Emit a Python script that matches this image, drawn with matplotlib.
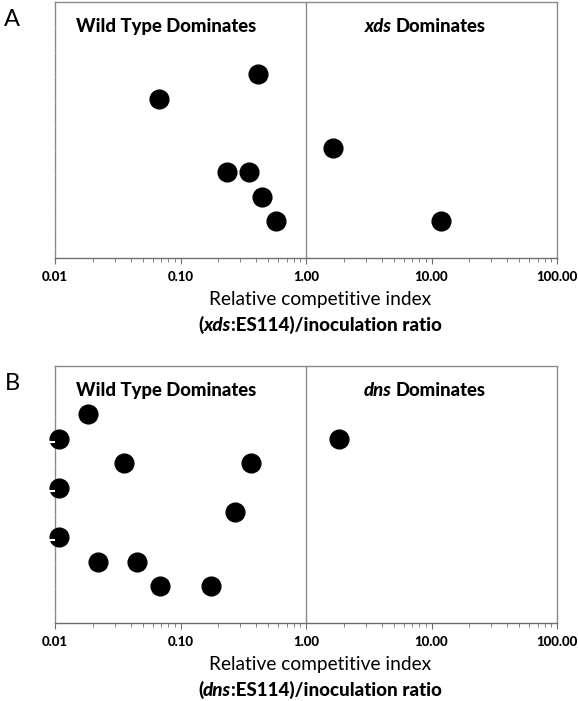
import matplotlib
matplotlib.use("Agg")
import matplotlib.pyplot as plt
from matplotlib.ticker import FixedLocator, LogLocator, NullFormatter

plt.rcParams["font.family"] = ["Lato", "DejaVu Sans"]

# Panel A: xds vs ES114 (relative competitive index, row index from bottom)
a_index = [0.415, 0.068, 1.63, 0.236, 0.353, 0.445, 0.582, 11.9]
a_row = [7, 6, 4, 3, 3, 2, 1, 1]

# Panel B: dns vs ES114
b_index = [0.0182, 0.0108, 1.83, 0.0357, 0.362, 0.0108, 0.271, 0.0108,
           0.0221, 0.0452, 0.069, 0.176]
b_row = [8, 7, 7, 6, 6, 5, 4, 3, 2, 2, 1, 1]

tick_values = [0.01, 0.1, 1, 10, 100]
tick_labels = ["0.01", "0.10", "1.00", "10.00", "100.00"]

W, H = 578, 701
fig = plt.figure(figsize=(W / 100, H / 100), dpi=100)
renderer = fig.canvas.get_renderer()

GRAY = "#8a8a8a"
HEAVY = 900


def px(x, y):
    return x / W, 1 - y / H


def rich_line(xc, y, parts, size, gap=0.0):
    texts = [fig.text(0, y, s, fontsize=size, fontweight=w, fontstyle=st,
                      ha="left", va="baseline") for s, w, st in parts]
    widths = [t.get_window_extent(renderer).width / fig.bbox.width for t in texts]
    total = sum(widths) + gap * (len(texts) - 1)
    x = xc - total / 2
    for t, w in zip(texts, widths):
        t.set_x(x)
        x += w + gap


def panel(top, bottom, xs, ys, letter, mutant):
    left, right = 55, 557
    ax = fig.add_axes([left / W, 1 - bottom / H, (right - left) / W, (bottom - top) / H])
    ax.plot(xs, ys, "o", color="black", markersize=13.5, zorder=3, clip_on=False)
    ax.set_xscale("log")
    ax.set_xlim(0.01, 100)
    ax.set_ylim(-0.5, 9.95)
    ax.axvline(1, color=GRAY, linewidth=1.0, zorder=1)
    for s in ax.spines.values():
        s.set_color(GRAY)
        s.set_linewidth(1.0)
    ax.spines["bottom"].set_color("#6e6e6e")
    ax.xaxis.set_major_locator(FixedLocator(tick_values))
    ax.set_xticklabels(tick_labels, fontsize=9.5, fontweight=HEAVY)
    ax.xaxis.set_minor_locator(LogLocator(base=10, subs=range(2, 10)))
    ax.xaxis.set_minor_formatter(NullFormatter())
    ax.tick_params(axis="x", which="major", direction="out", length=4,
                   color="#6e6e6e", pad=5)
    ax.tick_params(axis="x", which="minor", direction="out", length=3,
                   color="#6e6e6e")
    # white outward ticks on the y axis (only visible over the markers)
    ax.set_yticks([y - 0.12 for y in range(0, 10)])
    ax.set_yticklabels([])
    ax.tick_params(axis="y", which="major", direction="out", length=4,
                   width=1.5, color="white")
    ax.yaxis.set_zorder(5)
    ax.set_yticks([], minor=True)

    ax.text(0.221, 0.905, "Wild Type Dominates", transform=ax.transAxes,
            ha="center", va="center", fontsize=13.3, fontweight=HEAVY)
    # right-hand title: italic mutant name + Dominates
    t1 = ax.text(0, 0.905, mutant, transform=ax.transAxes, ha="left",
                 va="center", fontsize=13.3, fontweight=HEAVY, fontstyle="italic")
    t2 = ax.text(0, 0.905, "Dominates", transform=ax.transAxes, ha="left",
                 va="center", fontsize=13.3, fontweight=HEAVY)
    axw = ax.get_window_extent(renderer).width
    w1 = t1.get_window_extent(renderer).width / axw
    w2 = t2.get_window_extent(renderer).width / axw
    gap = 4 / axw
    x0 = 0.737 - (w1 + w2 + gap) / 2
    t1.set_x(x0)
    t2.set_x(x0 + w1 + gap)

    lx, ly = px(12, top + 17)
    fig.text(lx, ly, letter, fontsize=17, ha="center", va="center")

    xc = 320 / W
    _, y1 = px(0, bottom + 47)
    fig.text(xc, y1, "Relative competitive index", fontsize=13.8, ha="center",
             va="baseline")
    _, y2 = px(0, bottom + 73)
    rich_line(xc, y2, [("(", HEAVY, "normal"), (mutant, HEAVY, "italic"),
                       (":ES114)/inoculation ratio", HEAVY, "normal")], 13.5)
    return ax


panel(2, 258, a_index, a_row, "A", "xds")
panel(366, 623, b_index, b_row, "B", "dns")

fig.savefig("out.png", dpi=100)
